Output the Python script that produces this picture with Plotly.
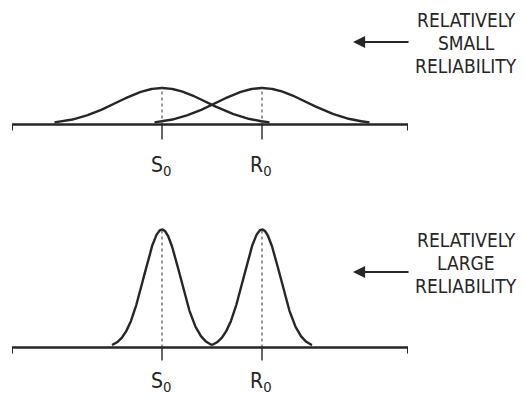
import numpy as np
import plotly.graph_objects as go

# ---- data ----
peak_labels = ["S<sub>0</sub>", "R<sub>0</sub>"]
means = [4.0, 6.0]                 # S0, R0 positions
sigma_small_rel = 0.90             # top panel: wide, overlapping
sigma_large_rel = 0.36             # bottom panel: narrow, separated
half_span_small = 2.15
half_span_large = 1.0
x_span = [1.0, 8.92]
note_small = ["RELATIVELY", "SMALL", "RELIABILITY"]
note_large = ["RELATIVELY", "LARGE", "RELIABILITY"]

W, H = 524, 405
INK = "#262626"
FONT = "Liberation Sans Narrow, DejaVu Sans Condensed, Arial Narrow, sans-serif"


def fx(p):
    return p / W


def fy(p):
    return 1 - p / H


def pdf(x, m, s):
    return np.exp(-0.5 * ((x - m) / s) ** 2) / (s * np.sqrt(2 * np.pi))


fig = go.Figure()

panels = [
    dict(sig=sigma_small_rel, span=half_span_small, xa="x", ya="y",
         base=124.5, peak=88.0, top=60, bot=150, tick=15, lab=166, note=note_small,
         note_y=[20.5, 43, 66], arrow_y=42),
    dict(sig=sigma_large_rel, span=half_span_large, xa="x2", ya="y2",
         base=347.5, peak=229.5, top=215, bot=375, tick=13, lab=382, note=note_large,
         note_y=[240, 263, 286], arrow_y=272),
]

shapes = []
annotations = []
layout_axes = {}
for i, p in enumerate(panels):
    pk = pdf(0, 0, p["sig"])
    k = (p["base"] - p["peak"]) / pk  # px per density unit
    yr = [-(p["bot"] - p["base"]) / k, (p["base"] - p["top"]) / k]
    suffix = "" if i == 0 else "2"
    layout_axes["xaxis" + suffix] = dict(domain=[fx(12), fx(408)], range=x_span,
                                         visible=False, anchor="y" + suffix)
    layout_axes["yaxis" + suffix] = dict(domain=[fy(p["bot"]), fy(p["top"])], range=yr,
                                         visible=False, anchor="x" + suffix)
    for m, lab in zip(means, peak_labels):
        xs = np.linspace(m - p["span"], m + p["span"], 300)
        fig.add_trace(go.Scatter(x=xs, y=pdf(xs, m, p["sig"]), mode="lines",
                                 line=dict(color=INK, width=2.4), xaxis=p["xa"], yaxis=p["ya"],
                                 hoverinfo="skip", showlegend=False))
        shapes.append(dict(type="line", xref=p["xa"], yref=p["ya"], x0=m, x1=m, y0=0, y1=pk,
                           line=dict(color="#555", width=1.2, dash="dot")))
        shapes.append(dict(type="line", xref=p["xa"], yref=p["ya"], x0=m, x1=m, y0=0,
                           y1=-p["tick"] / k, line=dict(color=INK, width=1.4)))
        annotations.append(dict(text=lab, xref=p["xa"], yref="paper", x=m, y=fy(p["lab"]),
                                xanchor="center", yanchor="middle", xshift=-1, showarrow=False,
                                font=dict(family=FONT, size=21, color=INK)))
    # baseline with small end hooks
    shapes.append(dict(type="line", xref=p["xa"], yref=p["ya"], x0=x_span[0], x1=x_span[1],
                       y0=0, y1=0, line=dict(color=INK, width=2.4)))
    for xe in x_span:
        shapes.append(dict(type="line", xref=p["xa"], yref=p["ya"], x0=xe, x1=xe,
                           y0=0, y1=-6 / k, line=dict(color=INK, width=2)))
    # note text
    for line_txt, ly in zip(p["note"], p["note_y"]):
        annotations.append(dict(text=line_txt, xref="paper", yref="paper", x=fx(466), y=fy(ly),
                                xanchor="center", yanchor="middle", showarrow=False,
                                font=dict(family=FONT, size=19, color=INK)))
    # arrow
    annotations.append(dict(text="", xref="paper", yref="paper", x=fx(353), y=fy(p["arrow_y"]),
                            ax=57, ay=0, showarrow=True, arrowhead=2, arrowsize=1.1,
                            arrowwidth=2.2, arrowcolor=INK))

fig.update_layout(width=W, height=H, margin=dict(l=0, r=0, t=0, b=0),
                  paper_bgcolor="white", plot_bgcolor="rgba(0,0,0,0)",
                  shapes=shapes, annotations=annotations, showlegend=False, **layout_axes)

fig.write_html("out.html", config={"displayModeBar": False},
               post_script="document.body.style.margin='0';")
